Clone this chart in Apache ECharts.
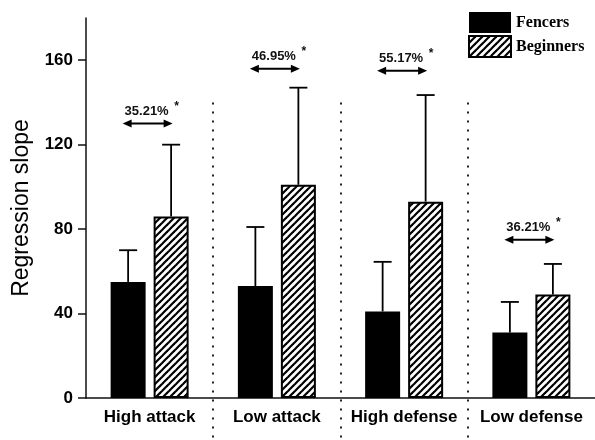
<!DOCTYPE html>
<html>
<head>
<meta charset="utf-8">
<script src="https://cdn.jsdelivr.net/npm/echarts@6/dist/echarts.min.js"></script>
<style>html,body{margin:0;padding:0;background:#fff;}#c{width:595px;height:440px;}</style>
</head>
<body>
<div id="c"></div>
<script>
const categories = ['High attack', 'Low attack', 'High defense', 'Low defense'];
const fencersMean = [55, 53, 41, 31];
const fencersErrTop = [70, 81, 64.5, 45.5];
const beginnersMean = [86, 101, 93, 49];
const beginnersErrTop = [120, 147, 143.5, 63.5];
const diffLabels = ['35.21%', '46.95%', '55.17%', '36.21%'];
const diffAt = [130, 156, 155, 75];
const separatorTop = 140;
const yTicks = [0, 40, 80, 120, 160];

const BAR_W = 35, BAR_GAP = 8;

// hatch pattern
const tile = document.createElement('canvas');
const S = 7;
tile.width = S; tile.height = S;
const tc = tile.getContext('2d');
tc.fillStyle = '#fff'; tc.fillRect(0, 0, S, S);
tc.strokeStyle = '#000'; tc.lineWidth = 2.2;
[-S, 0, S].forEach(k => { tc.beginPath(); tc.moveTo(k - 1, S + 1); tc.lineTo(k + S + 1, -1); tc.stroke(); });
const hatch = { image: tile, repeat: 'repeat' };

function errRender(offSign) {
  return function (params, api) {
    const c = api.coord([api.value(0), api.value(1)]);
    const t = api.coord([api.value(0), api.value(2)]);
    const x = c[0] + offSign * (BAR_W + BAR_GAP) / 2;
    const st = { stroke: '#000', lineWidth: 1.8 };
    return { type: 'group', children: [
      { type: 'line', shape: { x1: x, y1: c[1], x2: x, y2: t[1] }, style: st },
      { type: 'line', shape: { x1: x - 9, y1: t[1], x2: x + 9, y2: t[1] }, style: st }
    ]};
  };
}

const chart = echarts.init(document.getElementById('c'), null, { renderer: 'canvas' });
chart.setOption({
  backgroundColor: '#fff',
  animation: false,
  grid: { left: 86, right: -5, top: 18, bottom: 42 },
  legend: {
    data: ['Fencers', 'Beginners'],
    orient: 'vertical',
    left: 463, top: 7,
    itemWidth: 42, itemHeight: 21, itemGap: 2,
    icon: 'rect',
    textStyle: { fontFamily: 'Liberation Serif', fontWeight: 'bold', fontSize: 16, color: '#000' }
  },
  xAxis: {
    type: 'category',
    data: categories,
    axisTick: { show: false },
    axisLine: { lineStyle: { color: '#111', width: 1.5 } },
    axisLabel: { interval: 0, color: '#000', fontFamily: 'Liberation Sans', fontWeight: 'bold', fontSize: 17, margin: 11 }
  },
  yAxis: {
    type: 'value', min: 0, max: 180, interval: 40,
    name: 'Regression slope', nameLocation: 'middle', nameGap: 53,
    nameTextStyle: { color: '#000', fontFamily: 'Liberation Sans', fontSize: 23 },
    axisLine: { show: true, lineStyle: { color: '#111', width: 1.5 } },
    axisTick: { show: true, length: 8, customValues: yTicks, lineStyle: { color: '#111', width: 1.5 } },
    axisLabel: { customValues: yTicks, color: '#000', fontFamily: 'Liberation Sans', fontWeight: 'bold', fontSize: 17, margin: 13 },
    splitLine: { show: false }
  },
  series: [
    { name: 'Fencers', type: 'bar', data: fencersMean, barWidth: BAR_W, barGap: (BAR_GAP / BAR_W * 100) + '%',
      itemStyle: { color: '#000' } },
    { name: 'Beginners', type: 'bar', data: beginnersMean, barWidth: BAR_W,
      itemStyle: { color: hatch, borderColor: '#000', borderWidth: 2 } },
    { name: 'errF', type: 'custom', z: 3, renderItem: errRender(-1),
      data: categories.map((_, i) => [i, fencersMean[i], fencersErrTop[i]]) },
    { name: 'errB', type: 'custom', z: 3, renderItem: errRender(1),
      data: categories.map((_, i) => [i, beginnersMean[i], beginnersErrTop[i]]) },
    { name: 'sep', type: 'custom', clip: false, z: 1,
      renderItem: function (params, api) {
        const i = api.value(0);
        const a = api.coord([i, api.value(1)]);
        const b = api.coord([i + 1, api.value(1)]);
        const x = Math.round((a[0] + b[0]) / 2);
        return { type: 'line', shape: { x1: x, y1: a[1], x2: x, y2: api.getHeight() },
          style: { stroke: '#222', lineWidth: 2, lineDash: [2, 7] } };
      },
      data: [0, 1, 2].map(i => [i, separatorTop]) },
    { name: 'annot', type: 'custom', clip: false, z: 4,
      renderItem: function (params, api) {
        const p = api.coord([api.value(0), api.value(1)]);
        const cx = p[0] - 2, y = p[1];
        const x1 = cx - 25, x2 = cx + 25;
        return { type: 'group', children: [
          { type: 'line', shape: { x1: x1 + 6, y1: y, x2: x2 - 6, y2: y }, style: { stroke: '#000', lineWidth: 2 } },
          { type: 'polygon', shape: { points: [[x1, y], [x1 + 9, y - 4], [x1 + 9, y + 4]] }, style: { fill: '#000' } },
          { type: 'polygon', shape: { points: [[x2, y], [x2 - 9, y - 4], [x2 - 9, y + 4]] }, style: { fill: '#000' } },
          { type: 'text', x: p[0] - 3, y: y - 12, style: { text: diffLabels[params.dataIndex], fill: '#111',
            fontFamily: 'Liberation Sans', fontWeight: 'bold', fontSize: 13, align: 'center', verticalAlign: 'middle' } },
          { type: 'text', x: p[0] + 27, y: y - 17, style: { text: '*', fill: '#111',
            fontFamily: 'Liberation Sans', fontWeight: 'bold', fontSize: 12, align: 'center', verticalAlign: 'middle' } }
        ]};
      },
      data: categories.map((_, i) => [i, diffAt[i]]) }
  ]
});
</script>
</body>
</html>
